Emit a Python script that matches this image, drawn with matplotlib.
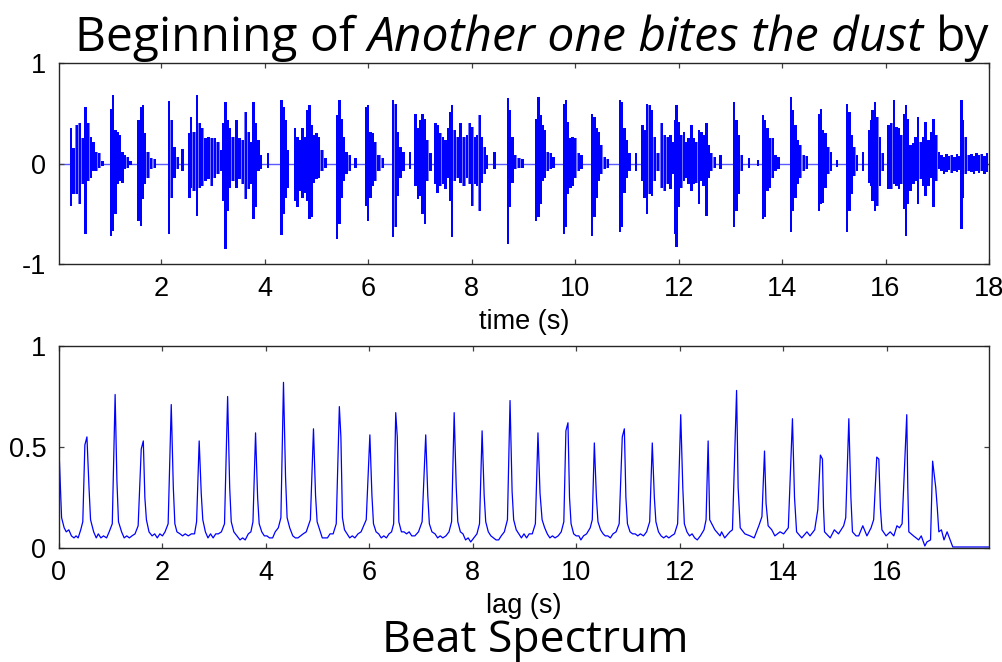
import matplotlib
matplotlib.use("Agg")
import matplotlib.pyplot as plt

W, H = 1003, 662
plt.rcParams['axes.unicode_minus'] = False

# ---------------- data ----------------
# waveform strokes: (time s, upper value, lower value)
wave_strokes = [
    (0.25, 0.35, -0.42), (0.30, 0.15, -0.30), (0.37, 0.38, -0.30), (0.42, 0.40, -0.40),
    (0.48, 0.25, -0.20), (0.53, 0.56, -0.70), (0.58, 0.40, -0.17), (0.64, 0.26, -0.14),
    (0.69, 0.21, -0.07), (0.74, 0.11, -0.07), (0.79, 0.10, -0.04), (0.86, 0.02, -0.02),
    (1.03, 0.54, -0.72), (1.07, 0.68, -0.67), (1.11, 0.33, -0.50), (1.15, 0.31, -0.20),
    (1.20, 0.28, -0.17), (1.25, 0.11, -0.19), (1.30, 0.08, -0.05), (1.35, 0.06, -0.04),
    (1.40, 0.02, -0.01),
    (1.56, 0.43, -0.57), (1.60, 0.56, -0.62), (1.64, 0.58, -0.35), (1.68, 0.30, -0.20),
    (1.74, 0.11, -0.14), (1.80, 0.05, -0.05), (1.88, 0.04, -0.04),
    (2.15, 0.62, -0.70), (2.20, 0.43, -0.34), (2.25, 0.16, -0.14), (2.32, 0.06, -0.05),
    (2.41, 0.14, -0.07),
    (2.54, 0.30, -0.34), (2.57, 0.46, -0.24), (2.63, 0.31, -0.27), (2.69, 0.68, -0.52),
    (2.74, 0.40, -0.24), (2.79, 0.35, -0.22), (2.85, 0.25, -0.17), (2.91, 0.26, -0.15),
    (2.98, 0.25, -0.22), (3.03, 0.25, -0.14), (3.09, 0.21, -0.10), (3.16, 0.13, -0.07),
    (3.20, 0.40, -0.37), (3.24, 0.61, -0.85), (3.29, 0.43, -0.47), (3.33, 0.35, -0.24),
    (3.38, 0.26, -0.17), (3.45, 0.43, -0.24), (3.51, 0.25, -0.15), (3.58, 0.23, -0.20),
    (3.63, 0.51, -0.35), (3.69, 0.31, -0.25), (3.74, 0.21, -0.20), (3.78, 0.61, -0.55),
    (3.82, 0.40, -0.43), (3.88, 0.23, -0.07), (3.93, 0.08, -0.05), (4.06, 0.10, -0.04),
    (4.32, 0.63, -0.71), (4.36, 0.56, -0.50), (4.40, 0.43, -0.34), (4.45, 0.13, -0.24),
    (4.58, 0.35, -0.37), (4.63, 0.26, -0.43), (4.68, 0.23, -0.27), (4.73, 0.35, -0.34),
    (4.78, 0.26, -0.29), (4.82, 0.53, -0.37), (4.86, 0.58, -0.55), (4.91, 0.38, -0.53),
    (4.95, 0.28, -0.19), (5.00, 0.30, -0.15), (5.05, 0.26, -0.14), (5.10, 0.13, -0.07),
    (5.17, 0.05, -0.04),
    (5.39, 0.48, -0.75), (5.44, 0.63, -0.60), (5.49, 0.44, -0.34), (5.53, 0.26, -0.17),
    (5.58, 0.11, -0.10), (5.65, 0.08, -0.07), (5.75, 0.05, -0.04),
    (5.95, 0.56, -0.42), (5.99, 0.58, -0.57), (6.04, 0.31, -0.34), (6.09, 0.30, -0.22),
    (6.13, 0.21, -0.17), (6.20, 0.08, -0.07), (6.28, 0.05, -0.04),
    (6.48, 0.63, -0.73), (6.53, 0.59, -0.63), (6.57, 0.31, -0.32), (6.62, 0.16, -0.14),
    (6.68, 0.11, -0.07), (6.80, 0.11, -0.05),
    (6.91, 0.49, -0.22), (6.96, 0.35, -0.35), (7.01, 0.43, -0.32), (7.05, 0.49, -0.50),
    (7.09, 0.44, -0.60), (7.14, 0.23, -0.17), (7.20, 0.10, -0.07), (7.30, 0.40, -0.20),
    (7.34, 0.38, -0.29), (7.39, 0.30, -0.22), (7.45, 0.26, -0.20), (7.49, 0.23, -0.25),
    (7.54, 0.35, -0.14), (7.59, 0.51, -0.37), (7.62, 0.58, -0.73), (7.67, 0.33, -0.17),
    (7.73, 0.26, -0.14), (7.78, 0.40, -0.19), (7.85, 0.26, -0.22), (7.91, 0.28, -0.14),
    (7.96, 0.40, -0.20), (8.01, 0.36, -0.42), (8.06, 0.26, -0.20), (8.10, 0.28, -0.22),
    (8.16, 0.48, -0.47), (8.20, 0.26, -0.19), (8.25, 0.16, -0.10), (8.30, 0.08, -0.05),
    (8.44, 0.11, -0.05),
    (8.70, 0.65, -0.80), (8.74, 0.53, -0.43), (8.79, 0.26, -0.19), (8.83, 0.08, -0.05),
    (8.91, 0.05, -0.04), (8.98, 0.04, -0.04),
    (9.24, 0.44, -0.57), (9.29, 0.66, -0.53), (9.33, 0.48, -0.40), (9.37, 0.38, -0.17),
    (9.42, 0.33, -0.14), (9.47, 0.11, -0.07), (9.53, 0.10, -0.05), (9.58, 0.06, -0.04),
    (9.78, 0.59, -0.70), (9.82, 0.63, -0.63), (9.86, 0.41, -0.30), (9.91, 0.25, -0.24),
    (9.95, 0.26, -0.22), (10.00, 0.25, -0.14), (10.07, 0.10, -0.07), (10.12, 0.08, -0.05),
    (10.33, 0.49, -0.72), (10.37, 0.46, -0.53), (10.41, 0.35, -0.34), (10.46, 0.31, -0.17),
    (10.50, 0.18, -0.10), (10.57, 0.06, -0.05), (10.63, 0.04, -0.04),
    (10.87, 0.63, -0.68), (10.91, 0.61, -0.63), (10.95, 0.35, -0.29), (11.00, 0.23, -0.14),
    (11.05, 0.10, -0.07), (11.18, 0.10, -0.07),
    (11.30, 0.38, -0.17), (11.34, 0.33, -0.34), (11.39, 0.59, -0.50), (11.44, 0.58, -0.30),
    (11.48, 0.53, -0.32), (11.54, 0.26, -0.17), (11.60, 0.10, -0.07), (11.68, 0.40, -0.24),
    (11.73, 0.28, -0.27), (11.79, 0.26, -0.20), (11.84, 0.28, -0.25), (11.89, 0.21, -0.10),
    (11.93, 0.43, -0.70), (11.96, 0.58, -0.83), (12.01, 0.41, -0.43), (12.05, 0.28, -0.24),
    (12.10, 0.31, -0.17), (12.15, 0.21, -0.14), (12.19, 0.25, -0.20), (12.25, 0.38, -0.27),
    (12.29, 0.25, -0.20), (12.34, 0.21, -0.19), (12.39, 0.33, -0.40), (12.44, 0.31, -0.17),
    (12.48, 0.28, -0.22), (12.54, 0.40, -0.52), (12.59, 0.18, -0.14), (12.63, 0.10, -0.07),
    (12.70, 0.06, -0.04), (12.81, 0.08, -0.05),
    (13.07, 0.61, -0.63), (13.12, 0.43, -0.47), (13.16, 0.28, -0.30), (13.22, 0.08, -0.07),
    (13.36, 0.05, -0.04), (13.54, 0.03, -0.02),
    (13.63, 0.48, -0.55), (13.67, 0.43, -0.53), (13.72, 0.35, -0.27), (13.77, 0.25, -0.24),
    (13.82, 0.25, -0.14), (13.87, 0.08, -0.07), (13.93, 0.06, -0.05),
    (14.17, 0.66, -0.68), (14.21, 0.53, -0.47), (14.26, 0.38, -0.34), (14.31, 0.23, -0.20),
    (14.35, 0.18, -0.14), (14.42, 0.08, -0.07), (14.48, 0.07, -0.05),
    (14.71, 0.49, -0.47), (14.75, 0.54, -0.40), (14.79, 0.33, -0.39), (14.84, 0.30, -0.24),
    (14.89, 0.16, -0.10), (14.95, 0.11, -0.07), (15.06, 0.03, -0.03),
    (15.26, 0.59, -0.68), (15.30, 0.51, -0.47), (15.34, 0.28, -0.30), (15.39, 0.16, -0.12),
    (15.45, 0.08, -0.07), (15.57, 0.11, -0.07),
    (15.68, 0.33, -0.19), (15.72, 0.43, -0.22), (15.75, 0.53, -0.37), (15.79, 0.61, -0.47),
    (15.84, 0.46, -0.42), (15.89, 0.26, -0.22), (15.95, 0.10, -0.07), (16.06, 0.38, -0.25),
    (16.11, 0.40, -0.25), (16.16, 0.63, -0.20), (16.21, 0.36, -0.22), (16.26, 0.35, -0.25),
    (16.30, 0.28, -0.20), (16.36, 0.49, -0.45), (16.39, 0.58, -0.72), (16.43, 0.44, -0.40),
    (16.48, 0.18, -0.27), (16.54, 0.20, -0.20), (16.58, 0.26, -0.17), (16.63, 0.46, -0.40),
    (16.68, 0.21, -0.15), (16.73, 0.26, -0.22), (16.77, 0.41, -0.32), (16.83, 0.23, -0.22),
    (16.88, 0.31, -0.14), (16.93, 0.44, -0.43), (16.98, 0.28, -0.17), (17.03, 0.11, -0.05),
    (17.08, 0.08, -0.07), (17.13, 0.06, -0.10), (17.18, 0.09, -0.08), (17.23, 0.07, -0.06),
    (17.28, 0.08, -0.09), (17.33, 0.06, -0.07), (17.38, 0.09, -0.08), (17.43, 0.07, -0.06),
    (17.47, 0.63, -0.65), (17.50, 0.43, -0.34), (17.55, 0.26, -0.10), (17.61, 0.08, -0.07),
    (17.66, 0.09, -0.08), (17.71, 0.07, -0.10), (17.76, 0.10, -0.07), (17.81, 0.08, -0.09),
    (17.86, 0.09, -0.07), (17.91, 0.07, -0.10), (17.96, 0.10, -0.08),
]
wave_t = [s[0] for s in wave_strokes]
wave_top = [s[1] for s in wave_strokes]
wave_bot = [s[2] for s in wave_strokes]

# silent stretch of the signal (zero line)
silence_t = [0.02, 18.0]
silence_v = [0.0, 0.0]

# beat spectrum vertices: (lag s, value)
beat_points = [
    (0.00, 1.00), (0.005, 0.45), (0.05, 0.15), (0.10, 0.10), (0.14, 0.08), (0.19, 0.09),
    (0.24, 0.06), (0.29, 0.05), (0.33, 0.06), (0.37, 0.05), (0.42, 0.09), (0.46, 0.13),
    (0.50, 0.51), (0.54, 0.55), (0.58, 0.30), (0.61, 0.14), (0.67, 0.08), (0.72, 0.05),
    (0.76, 0.07), (0.81, 0.05), (0.86, 0.06), (0.92, 0.05), (0.97, 0.08), (1.03, 0.12),
    (1.085, 0.76), (1.12, 0.33), (1.15, 0.13), (1.21, 0.08), (1.26, 0.05), (1.31, 0.06),
    (1.36, 0.05), (1.41, 0.06), (1.47, 0.07), (1.53, 0.11),
    (1.59, 0.49), (1.63, 0.53), (1.66, 0.25), (1.69, 0.14), (1.74, 0.08), (1.80, 0.06),
    (1.85, 0.07), (1.90, 0.05), (1.95, 0.07), (2.00, 0.06), (2.05, 0.08), (2.11, 0.12),
    (2.17, 0.71), (2.21, 0.30), (2.24, 0.12), (2.28, 0.08), (2.34, 0.07), (2.39, 0.06),
    (2.44, 0.07), (2.50, 0.06), (2.56, 0.07), (2.62, 0.07), (2.66, 0.13),
    (2.71, 0.53), (2.75, 0.27), (2.78, 0.14), (2.83, 0.08), (2.88, 0.05), (2.93, 0.07),
    (2.98, 0.05), (3.03, 0.07), (3.08, 0.07), (3.14, 0.08), (3.20, 0.12),
    (3.26, 0.75), (3.30, 0.30), (3.33, 0.13), (3.38, 0.08), (3.44, 0.06), (3.50, 0.04),
    (3.55, 0.05), (3.60, 0.04), (3.66, 0.07), (3.71, 0.08), (3.75, 0.13),
    (3.80, 0.57), (3.84, 0.25), (3.87, 0.12), (3.92, 0.08), (3.97, 0.06), (4.02, 0.06),
    (4.07, 0.05), (4.13, 0.05), (4.18, 0.08), (4.24, 0.10), (4.29, 0.15),
    (4.34, 0.82), (4.38, 0.35), (4.41, 0.15), (4.46, 0.10), (4.52, 0.06), (4.57, 0.05),
    (4.62, 0.05), (4.67, 0.06), (4.72, 0.07), (4.78, 0.08), (4.86, 0.14),
    (4.92, 0.59), (4.96, 0.26), (4.99, 0.13), (5.04, 0.09), (5.09, 0.05), (5.14, 0.05),
    (5.19, 0.05), (5.24, 0.07), (5.30, 0.07), (5.36, 0.12),
    (5.42, 0.70), (5.45, 0.55), (5.48, 0.15), (5.52, 0.09), (5.57, 0.07), (5.62, 0.05),
    (5.67, 0.06), (5.72, 0.05), (5.78, 0.07), (5.84, 0.08), (5.94, 0.14),
    (6.01, 0.56), (6.05, 0.26), (6.08, 0.12), (6.13, 0.08), (6.18, 0.07), (6.23, 0.05),
    (6.28, 0.06), (6.33, 0.05), (6.38, 0.07), (6.43, 0.08), (6.47, 0.12),
    (6.51, 0.67), (6.54, 0.55), (6.57, 0.13), (6.62, 0.08), (6.67, 0.08), (6.72, 0.07),
    (6.77, 0.08), (6.82, 0.06), (6.88, 0.06), (6.95, 0.08), (7.02, 0.13),
    (7.09, 0.56), (7.13, 0.26), (7.16, 0.12), (7.21, 0.08), (7.27, 0.07), (7.32, 0.05),
    (7.37, 0.06), (7.42, 0.05), (7.48, 0.06), (7.54, 0.08), (7.59, 0.13),
    (7.64, 0.67), (7.68, 0.30), (7.71, 0.13), (7.76, 0.08), (7.81, 0.07), (7.86, 0.04),
    (7.91, 0.05), (7.96, 0.03), (8.02, 0.05), (8.08, 0.07), (8.13, 0.12),
    (8.18, 0.58), (8.22, 0.26), (8.25, 0.13), (8.30, 0.08), (8.35, 0.06), (8.40, 0.05),
    (8.45, 0.04), (8.50, 0.04), (8.55, 0.06), (8.61, 0.08), (8.67, 0.14),
    (8.72, 0.73), (8.76, 0.28), (8.79, 0.14), (8.84, 0.09), (8.89, 0.07), (8.94, 0.05),
    (8.99, 0.07), (9.04, 0.05), (9.09, 0.07), (9.15, 0.07), (9.21, 0.12),
    (9.26, 0.57), (9.30, 0.27), (9.34, 0.14), (9.39, 0.10), (9.44, 0.07), (9.49, 0.05),
    (9.54, 0.06), (9.59, 0.05), (9.65, 0.06), (9.71, 0.08), (9.76, 0.13),
    (9.80, 0.58), (9.84, 0.62), (9.87, 0.25), (9.90, 0.12), (9.95, 0.07), (10.00, 0.06),
    (10.05, 0.06), (10.09, 0.04), (10.14, 0.06), (10.20, 0.07), (10.27, 0.10), (10.31, 0.14),
    (10.35, 0.52), (10.39, 0.25), (10.42, 0.13), (10.47, 0.09), (10.52, 0.07), (10.56, 0.06),
    (10.61, 0.06), (10.66, 0.05), (10.71, 0.07), (10.77, 0.08), (10.83, 0.12),
    (10.89, 0.55), (10.93, 0.59), (10.96, 0.25), (10.99, 0.12), (11.04, 0.08), (11.09, 0.07),
    (11.14, 0.07), (11.19, 0.06), (11.24, 0.07), (11.30, 0.06), (11.36, 0.08), (11.42, 0.13),
    (11.47, 0.52), (11.51, 0.25), (11.54, 0.13), (11.59, 0.08), (11.64, 0.06), (11.69, 0.05),
    (11.74, 0.06), (11.79, 0.05), (11.84, 0.06), (11.90, 0.07), (11.96, 0.12),
    (12.02, 0.66), (12.06, 0.30), (12.09, 0.12), (12.14, 0.08), (12.19, 0.06), (12.24, 0.07),
    (12.29, 0.05), (12.34, 0.04), (12.40, 0.06), (12.47, 0.09), (12.51, 0.14),
    (12.55, 0.53), (12.58, 0.14), (12.68, 0.09), (12.78, 0.06), (12.81, 0.08), (12.87, 0.05),
    (12.97, 0.08), (13.02, 0.09),
    (13.10, 0.78), (13.13, 0.30), (13.17, 0.10), (13.26, 0.07), (13.36, 0.06), (13.44, 0.05),
    (13.53, 0.11), (13.59, 0.155),
    (13.64, 0.48), (13.67, 0.22), (13.71, 0.11), (13.78, 0.09), (13.84, 0.06), (13.94, 0.08),
    (14.01, 0.07), (14.10, 0.10),
    (14.18, 0.64), (14.22, 0.25), (14.26, 0.08), (14.36, 0.05), (14.46, 0.08), (14.52, 0.06),
    (14.61, 0.09), (14.67, 0.19),
    (14.72, 0.46), (14.76, 0.44), (14.78, 0.20), (14.80, 0.08), (14.91, 0.05), (14.99, 0.09),
    (15.07, 0.07), (15.17, 0.11), (15.21, 0.15),
    (15.27, 0.64), (15.31, 0.25), (15.34, 0.08), (15.41, 0.06), (15.46, 0.06), (15.54, 0.11),
    (15.62, 0.06), (15.70, 0.10), (15.75, 0.14),
    (15.81, 0.45), (15.85, 0.44), (15.88, 0.20), (15.91, 0.09), (15.99, 0.06), (16.07, 0.08),
    (16.14, 0.06), (16.20, 0.11), (16.25, 0.10), (16.30, 0.12),
    (16.39, 0.66), (16.41, 0.30), (16.43, 0.08), (16.52, 0.06), (16.62, 0.04), (16.67, 0.06),
    (16.74, 0.01), (16.78, 0.03), (16.85, 0.04),
    (16.89, 0.43), (16.95, 0.30), (16.98, 0.20), (17.01, 0.08), (17.06, 0.09), (17.11, 0.04),
    (17.17, 0.08), (17.28, 0.005), (17.98, 0.005),
]
beat_lag = [p[0] for p in beat_points]
beat_val = [p[1] for p in beat_points]

top_xticks = [2, 4, 6, 8, 10, 12, 14, 16, 18]
top_yticks = [-1, 0, 1]
top_yticklabels = ["-1", "0", "1"]
bot_xticks = [0, 2, 4, 6, 8, 10, 12, 14, 16]
bot_yticks = [0, 0.5, 1]
bot_yticklabels = ["0", "0.5", "1"]

title_parts = [("Beginning of", "normal"), ("Another one bites the dust", "italic"), ("by", "normal")]
top_xlabel = "time (s)"
bot_xlabel = "lag (s)"
bottom_caption = "Beat Spectrum"

# ---------------- figure ----------------
TICK_FONT = ["Liberation Sans", "DejaVu Sans"]
BIG_FONT = ["Open Sans", "DejaVu Sans"]
TICK_SIZE = 19.5
AX_COLOR = "#262626"

fig = plt.figure(figsize=(W / 100, H / 100), dpi=100)
fig.patch.set_facecolor("white")


def px_axes(left, top, right, bottom):
    return fig.add_axes([left / W, 1 - bottom / H, (right - left) / W, (bottom - top) / H])


ax1 = px_axes(59, 63, 989, 264)
ax2 = px_axes(59, 346, 989, 548)


def style(ax):
    for sp in ax.spines.values():
        sp.set_color(AX_COLOR)
        sp.set_linewidth(1.0)
    ax.tick_params(direction="in", length=3.5, width=0.9, colors="#404040",
                   top=True, right=True, pad=9.0, labelcolor="black",
                   labelsize=TICK_SIZE)
    for lab in ax.get_xticklabels() + ax.get_yticklabels():
        lab.set_fontfamily(TICK_FONT)


# group the strokes into bursts (strokes closer than 0.085 s)
bursts = []
cur = [0]
for i in range(1, len(wave_t)):
    if wave_t[i] - wave_t[i - 1] <= 0.085:
        cur.append(i)
    else:
        bursts.append(cur)
        cur = [i]
bursts.append(cur)

ax1.plot(silence_t, silence_v, color="#5a5aff", lw=1.0, zorder=1)
for b in bursts:
    if len(b) > 1:
        ax1.fill_between([wave_t[i] for i in b], [wave_bot[i] for i in b],
                         [wave_top[i] for i in b], step="mid", facecolor="#7575ff",
                         edgecolor="none", zorder=2)
heights = [tp - bt for tp, bt in zip(wave_top, wave_bot)]
ax1.bar(wave_t, heights, bottom=wave_bot, width=0.045, color="#0000ff",
        linewidth=0, zorder=3)
ax1.set_xlim(0.02, 18.0)
ax1.set_ylim(-1, 1)
ax1.set_xticks(top_xticks)
ax1.set_xticklabels([str(v) for v in top_xticks])
ax1.set_yticks(top_yticks)
ax1.set_yticklabels(top_yticklabels)
style(ax1)
ax1.set_xlabel(top_xlabel, fontsize=TICK_SIZE, family=TICK_FONT)
ax1.xaxis.set_label_coords(0.5, -0.222)

ax2.plot(beat_lag, beat_val, color="#0000ff", lw=0.9)
ax2.set_xlim(0, 17.98)
ax2.set_ylim(0, 1)
ax2.set_xticks(bot_xticks)
ax2.set_xticklabels([str(v) for v in bot_xticks])
ax2.set_yticks(bot_yticks)
ax2.set_yticklabels(bot_yticklabels)
style(ax2)
ax2.set_xlabel(bot_xlabel, fontsize=TICK_SIZE, family=TICK_FONT)
ax2.xaxis.set_label_coords(0.5, -0.222)

renderer = fig.canvas.get_renderer()

# "Beat Spectrum" caption, sized to the reference width
cap = fig.text(535 / W, 1 - 652 / H, bottom_caption, family=BIG_FONT, fontsize=30,
               ha="center", va="baseline")
bw = cap.get_window_extent(renderer).width
cap.set_fontsize(30 * 306 / bw)

# title composed of regular / italic pieces, sized to the reference width
TITLE_WIDTH = 915
TITLE_CENTER = 532
title_size = 30.0


def build_title(size):
    sp1 = fig.text(0, 0, "a a", family=BIG_FONT, fontsize=size)
    sp2 = fig.text(0, 0, "aa", family=BIG_FONT, fontsize=size)
    space_w = sp1.get_window_extent(renderer).width - sp2.get_window_extent(renderer).width
    sp1.remove()
    sp2.remove()
    pieces, widths = [], []
    for txt, st in title_parts:
        t = fig.text(0, 1 - 51 / H, txt, family=BIG_FONT, fontsize=size, fontstyle=st,
                     ha="left", va="baseline")
        pieces.append(t)
        widths.append(t.get_window_extent(renderer).width)
    total = sum(widths) + space_w * (len(pieces) - 1)
    return pieces, widths, space_w, total


pieces, widths, space_w, total = build_title(title_size)
for t in pieces:
    t.remove()
title_size = title_size * TITLE_WIDTH / total
pieces, widths, space_w, total = build_title(title_size)
x = TITLE_CENTER - total / 2
for t, w_ in zip(pieces, widths):
    t.set_x(x / W)
    x += w_ + space_w

fig.savefig("out.png", dpi=100, facecolor="white")
